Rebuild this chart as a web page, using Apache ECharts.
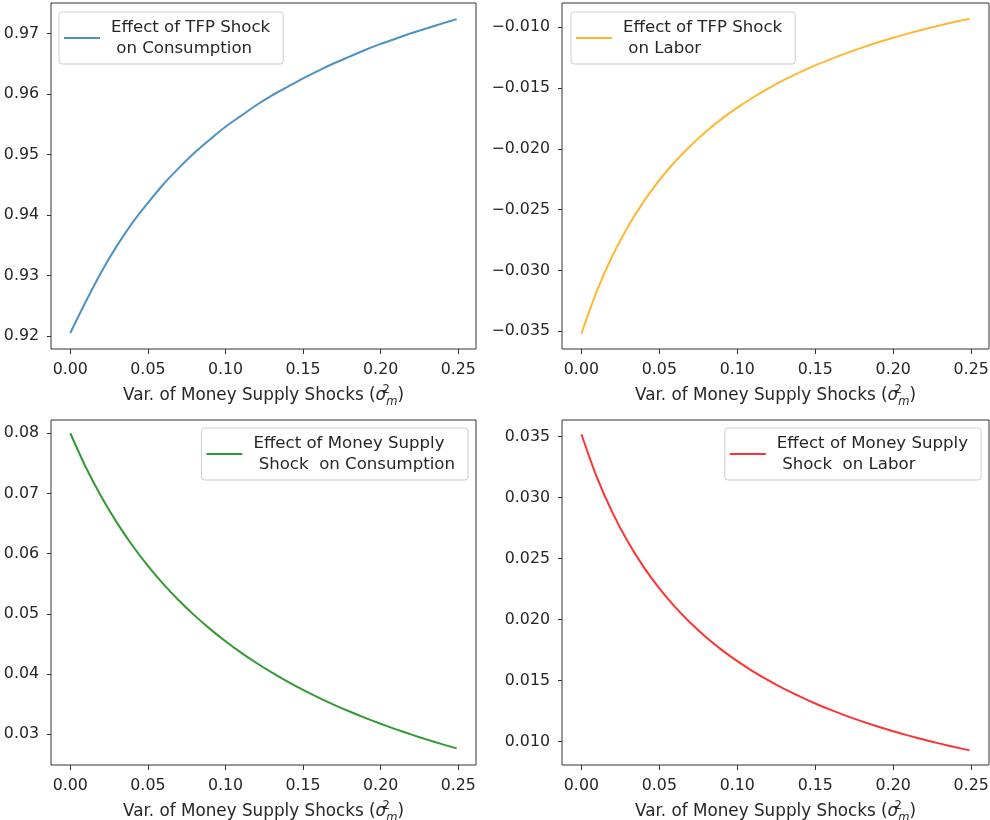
<!DOCTYPE html>
<html>
<head>
<meta charset="utf-8">
<script src="https://cdn.jsdelivr.net/npm/echarts@6/dist/echarts.min.js"></script>
<style>html,body{margin:0;padding:0;background:#fff}#c{width:990px;height:820px}</style>
</head>
<body>
<div id="c"></div>
<script>
// ---- data ----
const sigma2 = [0, 0.01, 0.02, 0.03, 0.04, 0.05, 0.06, 0.07, 0.08, 0.09, 0.10, 0.11, 0.12,
  0.13, 0.14, 0.15, 0.16, 0.17, 0.18, 0.19, 0.20, 0.21, 0.22, 0.23, 0.24, 0.249];
const tfpConsumption = [0.9205, 0.9257, 0.9306, 0.9349, 0.9387, 0.9420, 0.9451, 0.9478, 0.9503,
  0.9525, 0.9546, 0.9564, 0.9582, 0.9598, 0.9612, 0.9626, 0.9639, 0.9651, 0.9662, 0.9673,
  0.9683, 0.9692, 0.9701, 0.9709, 0.9717, 0.9724];
const tfpLabor = [-0.0352, -0.03165, -0.02876, -0.02635, -0.02431, -0.02256, -0.02105, -0.01973,
  -0.01857, -0.01753, -0.01660, -0.01577, -0.01502, -0.01433, -0.01371, -0.01313, -0.01261,
  -0.01212, -0.01167, -0.01125, -0.01086, -0.01050, -0.01016, -0.00984, -0.00954, -0.00929];
const moneyConsumption = [0.0800, 0.07435, 0.06944, 0.06515, 0.06135, 0.05797, 0.05495, 0.05222,
  0.04975, 0.04751, 0.04545, 0.04357, 0.04184, 0.04024, 0.03876, 0.03738, 0.03610, 0.03490,
  0.03378, 0.03273, 0.03175, 0.03082, 0.02994, 0.02911, 0.02833, 0.02766];
const moneyLabor = [0.0352, 0.03165, 0.02876, 0.02635, 0.02431, 0.02256, 0.02105, 0.01973,
  0.01857, 0.01753, 0.01660, 0.01577, 0.01502, 0.01433, 0.01371, 0.01313, 0.01261, 0.01212,
  0.01167, 0.01125, 0.01086, 0.01050, 0.01016, 0.00984, 0.00954, 0.00929];

const xTicks = [0, 0.05, 0.10, 0.15, 0.20, 0.25];
const yTicksTC = [0.92, 0.93, 0.94, 0.95, 0.96, 0.97];
const yTicksTL = [-0.035, -0.030, -0.025, -0.020, -0.015, -0.010];
const yTicksMC = [0.03, 0.04, 0.05, 0.06, 0.07, 0.08];
const yTicksML = [0.010, 0.015, 0.020, 0.025, 0.030, 0.035];

const names = [
  'Effect of TFP Shock\n on Consumption',
  'Effect of TFP Shock\n on Labor',
  'Effect of Money Supply\n Shock  on Consumption',
  'Effect of Money Supply\n Shock  on Labor'
];
const colors = ['rgba(31,119,180,0.8)', 'rgba(255,165,0,0.8)', 'rgba(0,128,0,0.8)', 'rgba(255,0,0,0.8)'];
const xLabel = 'Var. of Money Supply Shocks ({s|σ}{sup|2}{sub|m})';

// ---- chart ----
const FONT = 'DejaVu Sans';
const FS = 15.8;
const LFS = 16.6;
const NFS = 16.8;
const TXT = '#262626';
const grids = [
  {left: 51, top: 3, width: 425, height: 346},
  {left: 562, top: 3, width: 427, height: 346},
  {left: 51, top: 420, width: 425, height: 345},
  {left: 562, top: 420, width: 427, height: 345}
];
const yRanges = [[0.91785, 0.97507], [-0.03645, -0.00800], [0.0249, 0.0822], [0.00809, 0.03637]];
const yTicks = [yTicksTC, yTicksTL, yTicksMC, yTicksML];
const yDec = [2, 3, 2, 3];
const seriesData = [tfpConsumption, tfpLabor, moneyConsumption, moneyLabor];

const fmt = (v, d) => v.toFixed(d).replace('-', '\u2212');

const option = {
  animation: false,
  backgroundColor: '#fff',
  grid: grids.map(g => Object.assign({show: true, borderColor: '#333', borderWidth: 1,
    backgroundColor: 'transparent', outerBoundsMode: 'none', containLabel: false}, g)),
  xAxis: grids.map((g, i) => ({
    type: 'value', gridIndex: i, min: -0.01245, max: 0.26145,
    axisLine: {show: false, onZero: false},
    splitLine: {show: false},
    axisTick: {show: true, length: 5, lineStyle: {color: '#333'}, customValues: xTicks},
    axisLabel: {show: true, margin: 13, color: TXT, fontFamily: FONT, fontSize: FS,
      customValues: xTicks, formatter: v => v.toFixed(2)},
    name: xLabel, nameLocation: 'middle', nameGap: 35,
    nameTextStyle: {color: TXT, fontFamily: FONT, fontSize: NFS, lineHeight: 24,
      rich: {
        s: {fontFamily: FONT, fontSize: NFS, fontStyle: 'italic', color: TXT, lineHeight: 24},
        sup: {fontFamily: FONT, fontSize: 11.5, color: TXT, verticalAlign: 'top', width: 0.01},
        sub: {fontFamily: FONT, fontSize: 11.5, fontStyle: 'italic', color: TXT, verticalAlign: 'bottom'}
      }}
  })),
  yAxis: grids.map((g, i) => ({
    type: 'value', gridIndex: i, min: yRanges[i][0], max: yRanges[i][1],
    axisLine: {show: false, onZero: false},
    splitLine: {show: false},
    axisTick: {show: true, length: 4, lineStyle: {color: '#333'}, customValues: yTicks[i]},
    axisLabel: {show: true, margin: 12, color: TXT, fontFamily: FONT, fontSize: FS,
      customValues: yTicks[i], formatter: v => fmt(v, yDec[i])}
  })),
  legend: [
    {left: 59, top: 12},
    {left: 571, top: 12},
    {right: 522, top: 428},
    {right: 9, top: 428}
  ].map((p, i) => Object.assign({
    data: [{name: names[i], icon: 'rect'}], orient: 'vertical', itemWidth: 36, itemHeight: 2, itemGap: 0,
    backgroundColor: 'rgba(255,255,255,0.8)', borderColor: '#cccccc', borderWidth: 1, borderRadius: 3,
    padding: [5, 13, 5, 5],
    textStyle: {color: TXT, fontFamily: FONT, fontSize: LFS, lineHeight: 21, padding: [0, 0, 0, 6]},
    selectedMode: false
  }, p)),
  series: seriesData.map((d, i) => ({
    type: 'line', name: names[i], xAxisIndex: i, yAxisIndex: i,
    data: sigma2.map((x, k) => [x, d[k]]),
    symbol: 'none', showSymbol: false, smooth: 0.3,
    lineStyle: {color: colors[i], width: 2}, itemStyle: {color: colors[i]}
  }))
};
const chart = echarts.init(document.getElementById('c'), null, {renderer: 'canvas'});
chart.setOption(option);
</script>
</body>
</html>
